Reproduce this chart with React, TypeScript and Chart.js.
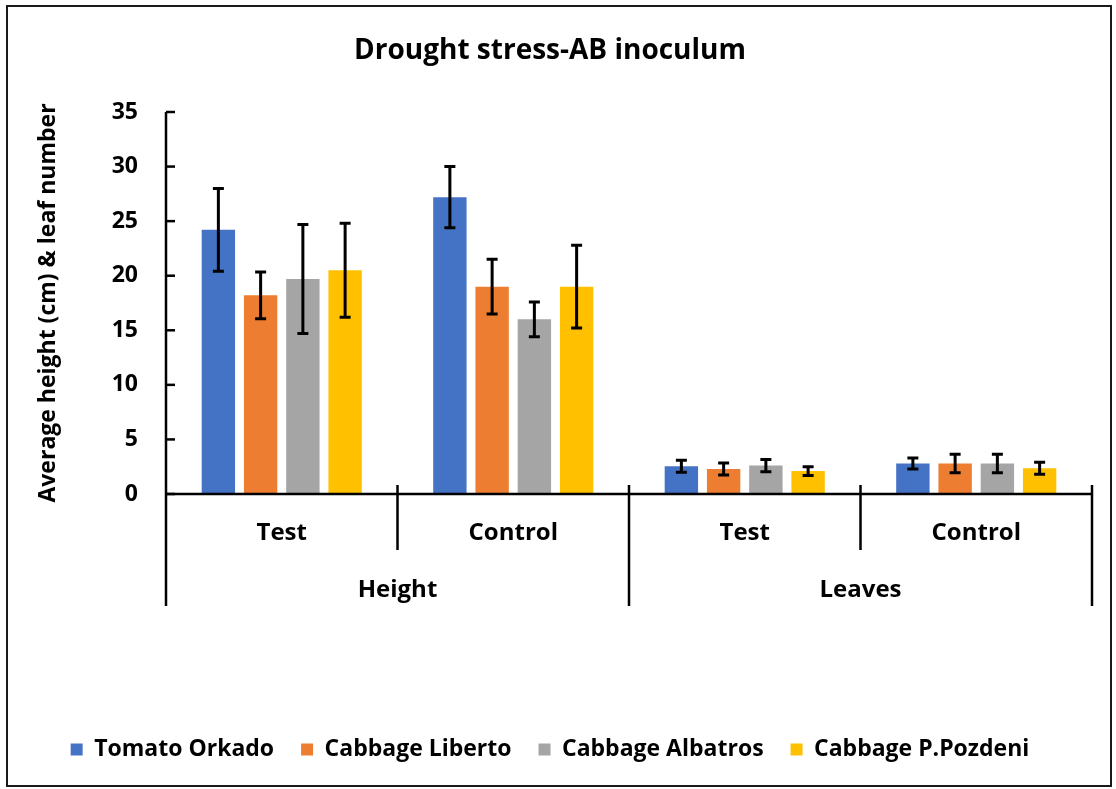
import React, { useEffect, useRef } from "react";
import { Chart, registerables } from "chart.js";

Chart.register(...registerables);

const chartTitle = "Drought stress-AB inoculum";
const yAxisTitle = "Average height (cm) & leaf number";
const categories = ["Test", "Control", "Test", "Control"];
const groupLabels = ["Height", "Leaves"];
const groupSizes = [2, 2];
const seriesNames = ["Tomato Orkado", "Cabbage Liberto", "Cabbage Albatros", "Cabbage P.Pozdeni"];
const seriesColors = ["#4472C4", "#ED7D31", "#A5A5A5", "#FFC000"];

const tomatoOrkado = [24.2, 27.2, 2.55, 2.8];
const tomatoOrkadoErr = [3.8, 2.8, 0.55, 0.5];
const cabbageLiberto = [18.2, 19.0, 2.3, 2.8];
const cabbageLibertoErr = [2.15, 2.5, 0.55, 0.85];
const cabbageAlbatros = [19.7, 16.0, 2.6, 2.8];
const cabbageAlbatrosErr = [5.0, 1.6, 0.55, 0.85];
const cabbagePozdeni = [20.5, 19.0, 2.1, 2.35];
const cabbagePozdeniErr = [4.3, 3.8, 0.4, 0.55];

const seriesValues = [tomatoOrkado, cabbageLiberto, cabbageAlbatros, cabbagePozdeni];
const seriesErrors = [tomatoOrkadoErr, cabbageLibertoErr, cabbageAlbatrosErr, cabbagePozdeniErr];

const yMin = 0;
const yMax = 35;
const yStep = 5;

const FONT = "'Open Sans'";
const PAD_BOTTOM = 18;
const AREA_BOTTOM = 494;

const frameAndAxesPlugin = {
  id: "frameAndAxes",
  beforeDraw(chart: any) {
    const ctx = chart.ctx;
    ctx.save();
    ctx.fillStyle = "#ffffff";
    ctx.fillRect(0, 0, chart.width, chart.height);
    ctx.strokeStyle = "#1a1a1a";
    ctx.lineWidth = 2;
    ctx.strokeRect(7, 6, chart.width - 12, chart.height - 9);
    ctx.restore();
  },
  afterDatasetsDraw(chart: any) {
    const ctx = chart.ctx;
    const y = chart.scales.y;
    ctx.save();
    ctx.strokeStyle = "#000";
    ctx.lineWidth = 3;
    ctx.lineCap = "butt";
    chart.data.datasets.forEach((ds: any, i: number) => {
      const meta = chart.getDatasetMeta(i);
      const errs = seriesErrors[i];
      meta.data.forEach((bar: any, j: number) => {
        const v = ds.data[j];
        const e = errs[j];
        const yt = y.getPixelForValue(v + e);
        const yb = y.getPixelForValue(v - e);
        const cap = 5.5;
        ctx.beginPath();
        ctx.moveTo(bar.x, yt);
        ctx.lineTo(bar.x, yb);
        ctx.moveTo(bar.x - cap, yt);
        ctx.lineTo(bar.x + cap, yt);
        ctx.moveTo(bar.x - cap, yb);
        ctx.lineTo(bar.x + cap, yb);
        ctx.stroke();
      });
    });
    ctx.restore();
  },
  afterDraw(chart: any) {
    const ctx = chart.ctx;
    const area = chart.chartArea;
    const x = chart.scales.x;
    const y = chart.scales.y;
    const shortBottom = area.bottom + 56;
    const longBottom = area.bottom + 112;
    ctx.save();
    ctx.strokeStyle = "#000";
    ctx.lineWidth = 2.5;
    ctx.beginPath();
    ctx.moveTo(area.left, area.top);
    ctx.lineTo(area.left, longBottom);
    ctx.stroke();
    y.ticks.forEach((t: any) => {
      const py = y.getPixelForValue(t.value);
      ctx.beginPath();
      ctx.moveTo(area.left, py);
      ctx.lineTo(area.left + 9, py);
      ctx.stroke();
    });
    ctx.beginPath();
    ctx.moveTo(area.left, area.bottom);
    ctx.lineTo(area.right, area.bottom);
    ctx.stroke();
    const n = categories.length;
    const bounds: number[] = [];
    for (let i = 0; i <= n; i++) {
      if (i === 0) bounds.push(area.left);
      else if (i === n) bounds.push(area.right);
      else bounds.push((x.getPixelForValue(i - 1) + x.getPixelForValue(i)) / 2);
    }
    const groupEnds: number[] = [];
    let acc = 0;
    groupSizes.forEach((s) => {
      acc += s;
      groupEnds.push(acc);
    });
    for (let i = 1; i <= n; i++) {
      const isGroup = groupEnds.includes(i);
      ctx.beginPath();
      ctx.moveTo(bounds[i], area.bottom - 9);
      ctx.lineTo(bounds[i], isGroup ? longBottom : shortBottom);
      ctx.stroke();
    }
    ctx.fillStyle = "#000";
    ctx.textAlign = "center";
    ctx.textBaseline = "middle";
    ctx.font = `bold 24px ${FONT}`;
    categories.forEach((c, i) => {
      ctx.fillText(c, x.getPixelForValue(i), area.bottom + 39);
    });
    let start = 0;
    groupLabels.forEach((g, gi) => {
      const end = start + groupSizes[gi];
      const cx = (bounds[start] + bounds[end]) / 2;
      ctx.fillText(g, cx, area.bottom + 96);
      start = end;
    });
    ctx.restore();
  },
};

export default function App() {
  const canvasRef = useRef<HTMLCanvasElement | null>(null);

  useEffect(() => {
    const canvas = canvasRef.current;
    if (!canvas) return;
    const chart = new Chart(canvas, {
      type: "bar",
      data: {
        labels: categories,
        datasets: seriesNames.map((name, i) => ({
          label: name,
          data: seriesValues[i],
          backgroundColor: seriesColors[i],
          borderWidth: 0,
          categoryPercentage: 0.73,
          barPercentage: 0.79,
        })),
      },
      options: {
        responsive: false,
        animation: false,
        layout: { padding: { left: 8, right: 24, top: 7, bottom: PAD_BOTTOM } },
        plugins: {
          title: {
            display: true,
            text: chartTitle,
            color: "#000",
            font: { family: FONT, size: 28, weight: "bold" },
            padding: { top: 27, bottom: 44.4 },
          },
          legend: {
            position: "bottom",
            labels: {
              color: "#000",
              boxWidth: 12,
              boxHeight: 12,
              padding: 27,
              font: { family: FONT, size: 23, weight: "bold" },
            },
          },
          tooltip: { enabled: false },
        },
        scales: {
          x: {
            grid: { display: false, drawTicks: false },
            border: { display: false },
            ticks: { display: false },
            afterFit(scale: any) {
              const lg = scale.chart.legend;
              const lh = lg && lg.height ? lg.height : 60;
              scale.height = scale.chart.height - PAD_BOTTOM - lh - AREA_BOTTOM;
            },
          },
          y: {
            min: yMin,
            max: yMax,
            grid: { display: false, drawTicks: false },
            border: { display: false },
            ticks: {
              stepSize: yStep,
              padding: 28,
              color: "#000",
              font: { family: FONT, size: 23, weight: "bold" },
            },
            title: {
              display: true,
              text: yAxisTitle,
              color: "#000",
              font: { family: FONT, size: 23, weight: "bold" },
              padding: { top: 27, bottom: 0 },
            },
            afterFit(scale: any) {
              scale.width = 158;
            },
          },
        },
      },
      plugins: [frameAndAxesPlugin],
    });
    return () => chart.destroy();
  }, []);

  return (
    <div style={{ position: "fixed", left: 0, top: 0, width: 1116, height: 789, background: "#fff" }}>
      <canvas ref={canvasRef} width={1116} height={789} style={{ display: "block" }} />
    </div>
  );
}
